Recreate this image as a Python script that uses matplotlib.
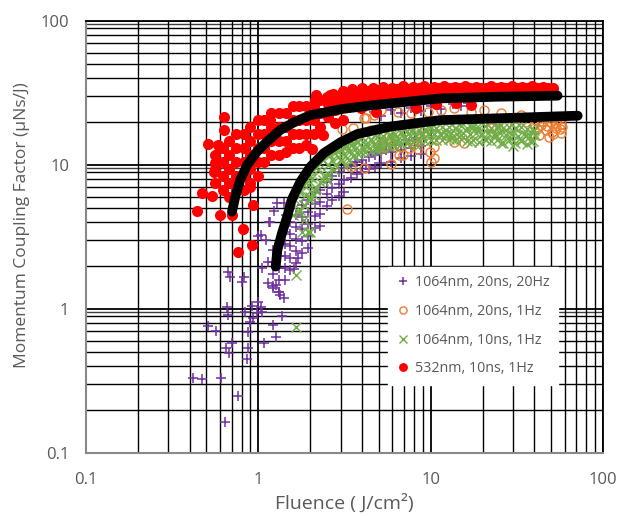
import matplotlib
matplotlib.use('Agg')
import matplotlib.pyplot as plt
import numpy as np

plt.rcParams['font.family'] = ['Open Sans', 'DejaVu Sans']

# ---- data (fluence J/cm2, coupling uNs/J) ----
# 1064nm, 20ns, 20Hz
nd20hz_sparse = [
    (0.419, 0.332), (0.472, 0.327), (0.609, 0.332), (0.643, 0.164), (0.765, 0.249),
    (0.652, 0.536), (0.678, 0.495), (0.706, 0.581), (0.863, 0.450), (0.875, 0.536),
    (0.512, 0.762), (0.570, 0.703), (0.660, 1.03), (0.669, 0.908), (0.839, 0.953),
    (0.923, 1.05), (0.669, 1.81), (0.687, 1.67), (0.829, 1.67), (0.807, 1.54),
    (0.875, 0.692), (0.897, 0.812), (0.935, 0.866), (0.987, 0.938), (1.03, 1.03),
    (1.00, 1.12), (1.055, 0.953), (1.08, 0.581), (1.22, 0.774), (1.27, 0.639),
    (1.38, 0.894), (1.00, 3.21), (1.11, 3.01), (1.16, 4.02), (1.24, 4.79),
    (1.40, 5.45), (1.14, 2.12), (1.055, 1.93), (1.13, 1.52), (1.21, 1.40),
    (1.31, 1.31), (1.26, 1.47), (1.34, 1.25), (1.40, 1.19), (1.62, 1.90),
    (1.69, 2.26), (1.44, 4.50), (1.53, 5.27), (1.29, 5.45), (1.17, 4.02),
    (1.03, 3.26),
]
nd20hz_band = [
    (1.21, 2.57), (1.21, 2.12), (1.21, 1.75), (1.21, 1.44),
    (1.31, 2.83), (1.31, 2.33), (1.31, 1.93), (1.31, 1.59), (1.31, 1.31),
    (1.42, 3.43), (1.42, 2.83), (1.42, 2.33), (1.42, 1.93), (1.42, 1.59),
    (1.53, 4.02), (1.53, 3.32), (1.53, 2.74), (1.53, 2.26), (1.53, 1.87),
    (1.66, 4.50), (1.66, 3.71), (1.66, 3.06), (1.66, 2.53), (1.66, 2.09),
    (1.80, 5.27), (1.80, 4.35), (1.80, 3.59), (1.80, 2.97), (1.80, 2.45),
    (1.95, 5.71), (1.95, 4.71), (1.95, 3.89), (1.95, 3.21), (1.95, 2.65),
    (2.12, 6.49), (2.12, 5.36), (2.12, 4.42), (2.12, 3.65),
    (2.29, 6.70), (2.29, 5.53), (2.29, 4.57), (2.29, 3.77),
    (2.49, 7.62), (2.49, 6.29), (2.49, 5.19), (2.69, 8.39), (2.69, 6.92), (2.69, 5.71),
    (2.92, 8.94), (2.92, 7.38), (2.92, 6.09), (3.16, 9.53), (3.16, 7.87), (3.16, 6.49),
    (3.43, 9.84), (3.43, 8.12), (3.72, 10.5), (3.72, 8.67), (4.02, 10.8), (4.02, 8.94),
    (4.36, 11.4), (4.36, 9.40), (4.73, 11.7), (4.73, 9.68), (5.12, 12.1), (5.12, 10.3),
    (5.85, 12.3), (5.85, 10.5), (6.69, 12.7), (6.69, 11.2), (7.65, 13.1), (7.65, 11.5),
    (8.75, 13.6), (8.75, 11.9),
    (3.66, 10.5), (4.19, 10.0), (4.48, 12.3), (4.99, 13.1), (5.47, 12.7), (6.26, 13.8),
    (7.16, 14.9), (8.18, 15.4), (4.66, 23.3), (5.12, 21.9), (5.85, 24.1), (6.69, 23.0),
    (7.65, 24.9), (8.75, 23.7), (10.0, 25.7), (11.4, 24.5), (13.5, 26.5), (14.9, 25.7),
    (16.4, 27.0),
]

# 1064nm, 20ns, 1Hz
nd1hz = [
    (3.04, 17.8), (3.52, 18.1), (3.29, 4.95), (4.08, 21.2), (4.66, 22.2),
    (5.12, 24.1), (6.43, 23.3), (7.65, 23.0), (9.60, 23.3), (11.4, 24.1),
    (13.6, 24.9), (17.1, 23.3), (20.3, 24.1), (4.24, 21.2), (4.08, 9.5),
    (3.47, 9.7), (5.85, 10.2), (10.0, 10.5), (10.4, 13.3), (9.87, 12.3),
    (8.40, 12.9), (6.88, 11.7), (6.52, 11.7), (7.86, 13.8), (6.09, 13.8),
    (13.6, 14.4), (15.6, 14.2), (5.33, 13.3), (10.4, 11.2), (7.45, 13.1),
    (4.79, 14.9), (5.70, 16.2), (8.75, 15.4), (12.2, 16.2), (4.48, 17.5),
    (6.69, 19.0), (3.66, 15.4), (8.18, 17.5),
    (40.7, 20.5), (43.6, 19.0), (46.6, 17.5), (49.9, 19.9), (53.3, 18.1),
    (57.0, 16.7), (42.4, 16.2), (48.5, 15.7), (54.1, 20.9), (45.4, 21.2),
    (51.2, 16.4), (57.0, 19.3), (41.5, 17.8), (44.5, 20.2), (47.5, 18.8),
    (50.5, 17.0), (53.7, 19.6), (56.0, 17.8), (39.5, 19.0), (58.0, 18.5),
    (52.0, 21.5), (23.9, 20.5), (27.3, 19.0), (31.2, 21.2), (35.7, 19.9),
    (22.3, 18.1), (25.5, 22.9), (33.3, 22.2),
]

# 1064nm, 10ns, 1Hz
ns10_sparse = [
    (1.66, 1.72), (1.66, 0.75), (1.93, 3.42), (2.00, 3.42), (1.80, 3.42),
    (1.58, 4.50), (1.64, 5.71), (1.71, 6.70), (1.75, 4.87), (1.83, 4.15),
    (1.88, 6.19), (1.95, 7.26), (2.00, 5.71), (2.06, 8.10), (2.14, 6.70),
    (2.23, 9.23), (2.29, 7.62), (2.36, 10.8), (2.45, 8.52), (2.55, 10.0),
    (2.62, 11.7), (2.73, 9.23), (2.84, 12.7), (3.00, 10.8), (3.12, 13.1),
    (3.25, 10.0), (3.43, 13.8), (3.57, 11.7), (3.76, 14.4), (3.92, 12.3),
    (4.19, 13.8), (4.48, 14.9), (4.79, 12.7), (5.12, 15.4), (5.47, 13.8),
    (5.85, 16.2), (6.26, 14.4), (6.69, 16.7), (7.16, 14.9), (7.65, 17.2),
    (8.18, 13.8), (8.75, 16.2), (9.35, 17.5), (10.0, 14.9), (10.7, 18.1),
    (11.4, 16.2), (12.2, 17.5), (13.1, 15.4), (14.0, 18.1), (14.9, 16.2),
    (16.0, 17.5), (17.1, 14.4), (18.3, 18.1), (19.5, 16.2), (20.9, 14.9),
    (22.3, 18.1), (23.9, 16.2), (25.5, 14.2), (27.3, 17.5), (29.2, 15.4),
    (31.2, 18.1), (33.3, 14.9), (35.7, 16.2), (38.1, 14.4), (39.7, 17.5),
    (30.0, 13.6), (24.9, 18.4), (17.1, 18.4), (10.0, 18.4), (5.12, 13.1),
    (3.34, 10.8), (2.49, 7.87), (2.09, 6.19), (1.85, 5.27),
]
ns10_upper = [
    (1.71, 6.5), (1.85, 7.26), (2.00, 8.25), (2.17, 9.5), (2.36, 10.8), (2.55, 11.9),
    (2.77, 12.1), (3.00, 12.9), (3.25, 13.6), (3.52, 14.0), (3.81, 14.4), (4.13, 14.9),
    (4.48, 15.2), (4.85, 15.6), (5.26, 15.9), (5.70, 16.2), (6.18, 16.4), (6.69, 16.9),
    (7.25, 17.2), (7.86, 17.5), (8.52, 17.6), (9.23, 17.8), (10.0, 18.1), (10.8, 18.1),
    (11.7, 18.3), (12.7, 18.4), (13.8, 18.0), (14.9, 18.6), (16.2, 18.2), (17.5, 18.5),
    (19.0, 18.0), (20.6, 18.6), (22.3, 18.2), (24.2, 18.5), (26.2, 18.0), (28.4, 18.4),
    (30.8, 18.1), (33.3, 18.3), (36.1, 17.8), (39.2, 17.5),
]
ns10_middle = [
    (2.66, 10.8), (2.88, 11.4), (3.12, 12.0), (3.38, 12.5), (3.66, 12.9), (3.97, 13.3),
    (4.30, 13.6), (4.66, 14.0), (5.05, 14.3), (5.48, 14.6), (5.94, 14.8), (6.43, 15.1),
    (6.97, 15.5), (7.55, 15.8), (8.18, 16.0), (8.87, 16.1), (9.61, 16.3), (10.4, 16.4),
    (11.3, 16.5), (12.2, 16.3), (13.2, 16.7), (14.3, 16.4), (15.5, 16.8), (16.8, 16.3),
    (18.2, 16.7), (19.8, 16.4), (21.4, 16.8), (23.2, 16.2), (25.2, 16.6), (27.3, 16.1),
    (29.6, 16.5), (32.0, 16.0), (34.7, 16.4), (37.6, 15.8), (40.5, 16.1),
]
ns10_lower = [
    (1.71, 4.71), (1.85, 5.27), (2.00, 6.0), (2.17, 6.9), (2.36, 7.87), (2.55, 8.67),
    (2.77, 10.0), (3.00, 10.6), (3.25, 11.2), (3.52, 11.5), (3.81, 11.9), (4.13, 12.3),
    (4.48, 12.5), (4.85, 12.9), (5.26, 13.1), (5.70, 13.3), (6.18, 13.6), (6.69, 14.0),
    (7.25, 14.2), (7.86, 14.4), (8.52, 14.6), (9.23, 14.7), (10.0, 14.9), (10.8, 14.9),
    (11.7, 15.0), (12.7, 15.1), (13.8, 14.8), (14.9, 15.2), (16.2, 14.6), (17.5, 15.0),
    (19.0, 14.5), (20.6, 15.1), (22.3, 14.6), (24.2, 14.9), (26.2, 14.3), (28.4, 14.8),
    (30.8, 14.2), (33.3, 14.7), (36.1, 14.1), (39.2, 14.6),
]

# 532nm, 10ns, 1Hz
nm532_left = [
    (2.17, 30.6), (0.63, 21.5), (0.63, 17.5), (0.51, 14.0), (0.58, 13.8),
    (0.56, 10.3), (0.55, 8.9), (0.47, 6.4), (0.44, 4.8), (0.54, 6.1),
    (0.60, 4.5), (0.70, 4.5), (0.81, 3.6), (0.92, 2.8), (0.76, 2.5),
    (0.93, 5.3), (0.90, 7.0), (1.17, 20.5), (2.05, 12.9),
    (0.56, 11.7), (0.56, 9.4), (0.56, 7.5), (0.62, 13.1), (0.62, 10.5), (0.62, 8.4),
    (0.62, 6.7), (0.68, 14.7), (0.68, 11.7), (0.68, 9.4), (0.68, 7.5), (0.68, 6.0),
    (0.745, 16.4), (0.745, 13.1), (0.745, 10.5), (0.745, 8.4), (0.745, 6.7),
    (0.82, 16.4), (0.82, 13.1), (0.82, 10.5), (0.82, 8.4), (0.82, 6.7),
    (0.90, 18.4), (0.90, 14.7), (0.90, 11.7), (0.90, 9.4), (0.90, 7.5),
    (0.99, 20.5), (0.99, 16.4), (0.99, 13.1), (0.99, 10.5), (0.99, 8.4),
    (1.08, 20.5), (1.08, 16.4), (1.08, 13.1), (1.08, 10.5),
    (1.19, 22.9), (1.19, 18.4), (1.19, 14.7), (1.19, 11.7),
    (1.31, 22.9), (1.31, 18.4), (1.31, 14.7), (1.31, 11.7),
    (1.44, 22.9), (1.44, 18.4), (1.44, 14.7), (1.44, 12.3),
    (1.58, 25.6), (1.58, 20.5), (1.58, 16.4), (1.58, 13.1),
    (1.73, 25.6), (1.73, 20.5), (1.73, 16.4), (1.73, 13.1),
    (1.90, 25.6), (1.90, 20.5), (1.90, 16.4), (1.90, 13.8),
    (2.09, 25.6), (2.09, 20.5), (2.09, 16.4), (2.29, 28.3), (2.29, 22.9), (2.29, 18.4),
    (2.52, 26.5), (2.52, 21.5), (2.77, 29.7), (2.77, 24.1), (2.77, 19.6),
    (2.14, 28.3), (2.36, 16.2), (2.62, 30.6), (3.08, 20.5), (3.92, 24.9), (4.79, 23.3),
    (8.18, 24.9), (10.7, 26.5), (14.0, 27.0), (17.1, 26.1),
]
nm532_upper = [
    (2.5, 29.5), (2.7, 31.0), (2.9, 30.0), (3.1, 32.5), (3.3, 31.5), (3.5, 33.5),
    (3.8, 32.0), (4.0, 34.0), (4.3, 32.5), (4.6, 34.5), (4.9, 33.0), (5.3, 35.0),
    (5.6, 33.0), (6.0, 34.5), (6.4, 33.5), (6.9, 35.5), (7.4, 33.5), (7.9, 35.0),
    (8.5, 34.0), (9.1, 35.5), (9.8, 33.5), (10.5, 35.0), (11.2, 34.0), (12.0, 35.5),
    (12.9, 34.0), (13.8, 35.0), (14.8, 34.5), (15.9, 35.5), (17.0, 34.0), (18.2, 35.0),
    (19.5, 34.5), (20.9, 34.0), (22.4, 35.5), (24.0, 34.0), (25.7, 35.0), (27.5, 34.5),
    (29.5, 35.5), (31.6, 34.0), (33.9, 35.0), (36.3, 34.5), (38.9, 35.5), (41.7, 34.0),
    (44.7, 35.0), (47.9, 34.5), (51.0, 34.0),
]
nm532_lower = [
    (2.6, 26.5), (2.8, 27.5), (3.0, 26.0), (3.2, 28.5), (3.4, 27.0), (3.65, 29.0),
    (3.9, 27.5), (4.15, 29.5), (4.45, 28.0), (4.75, 30.0), (5.1, 28.5), (5.45, 30.5),
    (5.8, 29.0), (6.2, 31.0), (6.65, 29.5), (7.1, 31.0), (7.6, 30.0), (8.2, 31.5),
    (8.8, 30.0), (9.4, 31.5), (10.1, 30.5), (10.8, 31.5), (11.6, 30.5), (12.4, 32.0),
    (13.3, 30.5), (14.3, 32.0), (15.3, 31.0), (16.4, 32.5), (17.6, 31.0), (18.9, 32.0),
    (20.2, 31.5), (21.7, 32.5), (23.2, 31.0), (24.9, 32.0), (26.6, 31.5), (28.5, 32.5),
    (30.6, 31.0), (32.8, 32.0), (35.1, 31.5), (37.6, 32.5), (40.3, 31.5), (43.2, 32.0),
    (46.3, 31.5), (49.4, 32.5), (52.0, 31.0),
]

# fitted curves (black)
fit_532 = [(0.703, 4.74), (0.735, 6.03), (0.785, 7.87), (0.860, 10.0), (0.983, 12.4),
           (1.12, 14.5), (1.34, 17.5), (1.60, 19.7), (2.0, 22.2), (2.40, 23.1),
           (3.0, 24.4), (4.68, 26.1), (7.32, 27.5), (11.4, 29.0), (24.4, 29.8), (54.5, 30.3)]
fit_1064 = [(1.26, 1.97), (1.29, 2.57), (1.37, 3.35), (1.47, 4.38), (1.56, 5.71),
            (1.75, 7.62), (2.0, 9.69), (2.40, 12.1), (3.0, 14.4), (3.75, 16.4),
            (5.85, 18.5), (11.4, 20.5), (24.4, 21.1), (71.3, 22.0)]

labels = ['1064nm, 20ns, 20Hz', '1064nm, 20ns, 1Hz', '1064nm, 10ns, 1Hz', '532nm, 10ns, 1Hz']
grey = '#595959'

fig = plt.figure(figsize=(6.22, 5.16), dpi=100)
ax = fig.add_axes([0.1383, 0.1221, 0.8312, 0.8372])
ax.set_xscale('log')
ax.set_yscale('log')
ax.set_xlim(0.1, 100)
ax.set_ylim(0.1, 100)

ax.grid(which='major', color='black', lw=1.3)
ax.grid(which='minor', color='black', lw=1.0)
for yy in [0.955, 9.5, 95]:
    ax.axhline(yy, color='#404040', lw=1.0, zorder=0.5)
ax.set_axisbelow(True)

p = np.array(nd20hz_sparse + nd20hz_band)
h1, = ax.plot(p[:, 0], p[:, 1], ls='none', marker='+', ms=7.5, mew=1.1, color='#7030A0', zorder=3)
p = np.array(nd1hz)
h2, = ax.plot(p[:, 0], p[:, 1], ls='none', marker='o', ms=6.5, mew=1.0, mfc='none', mec='#ED7D31', zorder=3)
p = np.array(ns10_sparse + ns10_upper + ns10_middle + ns10_lower)
h3, = ax.plot(p[:, 0], p[:, 1], ls='none', marker='x', ms=6.5, mew=1.0, color='#70AD47', zorder=3)
p = np.array(nm532_left + nm532_upper + nm532_lower)
h4, = ax.plot(p[:, 0], p[:, 1], ls='none', marker='o', ms=8, mew=0, color='#FF0000', zorder=3)

for f in [fit_532, fit_1064]:
    f = np.array(f)
    ax.plot(f[:, 0], f[:, 1], color='black', lw=7, solid_capstyle='round', zorder=5)

ticks = [0.1, 1, 10, 100]
tick_text = ['0.1', '1', '10', '100']
ax.set_xticks(ticks)
ax.set_xticklabels(tick_text)
ax.set_yticks(ticks)
ax.set_yticklabels(tick_text)
ax.tick_params(which='both', length=0, labelsize=12, colors=grey)
ax.tick_params(axis='x', pad=14)
ax.tick_params(axis='y', pad=12)

for s in ['left', 'bottom']:
    ax.spines[s].set_color('#898989')
    ax.spines[s].set_linewidth(1.5)
for s in ['top', 'right']:
    ax.spines[s].set_color('black')
    ax.spines[s].set_linewidth(1.3)

ax.set_xlabel('Fluence ( J/cm²)', fontsize=14, color=grey, labelpad=4)
ax.set_ylabel('Momentum Coupling Factor (μNs/J)', fontsize=12.5, color=grey)
ax.yaxis.set_label_coords(-0.108, 0.528)

leg = ax.legend([h1, h2, h3, h4], labels, loc='upper left', bbox_to_anchor=(0.584, 0.431),
                borderaxespad=0, fontsize=10.3, frameon=True, fancybox=False,
                facecolor='white', edgecolor='white', framealpha=1, markerscale=0.8,
                handlelength=0.9, handletextpad=0.4, labelspacing=0.95, borderpad=0.6)
for t in leg.get_texts():
    t.set_color(grey)
leg.set_zorder(10)

fig.savefig('out.png', dpi=100)
